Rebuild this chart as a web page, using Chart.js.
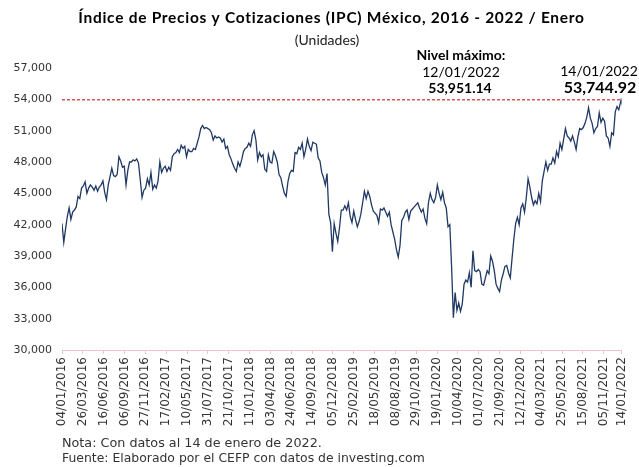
<!DOCTYPE html>
<html>
<head>
<meta charset="utf-8">
<script src="https://cdn.jsdelivr.net/npm/chart.js@4/dist/chart.umd.min.js"></script>
<style>
html,body{margin:0;padding:0;background:#ffffff;}
#wrap{position:relative;width:639px;height:467px;}
</style>
</head>
<body>
<div id="wrap"><canvas id="c" width="639" height="467"></canvas></div>
<script>
// ---- DATA ----
const startDate = '04/01/2016';   // first weekly observation
const stepDays = 7;               // weekly observations
const ipc2016 = [42100,40300,41600,42800,43600,42500,43200,43400,43700,44700,44500,45500,45700,46100,45000,45500,45800,45600,45300,45700,45200,45600,45800,46200,45100,44400,45800,46600,47400,46700,46600,46800,48500,48100,47500,47600,45800,47200,48000,48000,48200,48100,48300,47900,46300,44600,45300,45500,46400,45800,47000,45400];
const ipc2017 = [45800,45500,46200,48000,47000,47400,47600,47100,47500,47200,48500,48800,48900,49200,48900,49600,49300,49500,48500,49200,49000,49000,49300,49200,49800,50400,51200,51500,51200,51300,51200,51100,50800,50100,50500,50300,50400,50300,49900,50200,49300,49500,48700,48300,47800,47400,47100,48000,47600,48200,49000,49300];
const ipc2018 = [49400,49800,49500,50600,51000,50100,48200,48900,48500,48700,47300,47100,48700,48000,47900,49000,48600,48000,46800,46500,45700,45000,44700,46100,46900,47200,47100,48900,48800,49400,49200,49800,48500,49200,50200,49500,49100,49900,49800,49700,48400,48100,47000,46500,45800,46900,43000,42200,39400,42100,41200,40400];
const ipc2019 = [41700,43400,43400,43800,43400,44100,42800,42200,43300,42500,41800,42300,43000,44100,45200,44500,45200,44700,43900,43300,43100,42900,42200,43500,43400,43600,43200,42800,43200,42000,41300,40600,39600,38900,40000,42400,42700,43200,43400,42500,43300,43500,43700,43900,44100,43600,43200,43500,42600,42100,44100,45000];
const ipc2020 = [44400,44100,44600,45800,45000,44400,45100,44100,43600,41800,42000,38000,33100,35500,33800,34500,33700,34400,36300,36700,36500,37400,36000,39500,37600,37500,37700,37500,36300,36200,36900,37600,37300,39000,38500,37600,36300,35900,35600,36700,37300,38000,38100,37400,36900,38800,40600,42100,42700,42000,43600,44000];
const ipc2021 = [43200,44600,46400,45600,44600,43900,44300,44000,45000,44200,46200,47100,48000,47200,47800,47800,48400,47900,49000,48500,49800,49200,50200,51200,50500,50300,50000,50500,49900,49200,50400,51200,51100,51300,51700,52300,53200,52200,51700,50800,51200,51400,52700,51800,52200,51900,50500,50300,49500,50800,50600,52800];
const ipc2022 = [53300,53000];
const finalDates = ['12/01/2022','14/01/2022'];
const finalValues = [53951.14, 53744.92];

const tickLabels = ['04/01/2016','26/03/2016','16/06/2016','06/09/2016','27/11/2016','17/02/2017','10/05/2017','31/07/2017','21/10/2017','11/01/2018','03/04/2018','24/06/2018','14/09/2018','05/12/2018','25/02/2019','18/05/2019','08/08/2019','29/10/2019','19/01/2020','10/04/2020','01/07/2020','21/09/2020','12/12/2020','04/03/2021','25/05/2021','15/08/2021','05/11/2021','14/01/2022'];
const yMin = 30000, yMax = 57000, yStep = 3000;

const maxDate = '12/01/2022', maxValue = 53951.14;
const lastDate = '14/01/2022', lastValue = 53744.92;

const titleText = 'Índice de Precios y Cotizaciones (IPC) México, 2016 - 2022 / Enero';
const subtitleText = '(Unidades)';
const maxCaption = 'Nivel máximo:';
const noteLines = ['Nota: Con datos al 14 de enero de 2022.','Fuente: Elaborado por el CEFP con datos de investing.com'];

// ---- HELPERS ----
function dayOffset(s){
  const [d,m,y] = s.split('/').map(Number);
  const [d0,m0,y0] = startDate.split('/').map(Number);
  return Math.round((Date.UTC(y,m-1,d) - Date.UTC(y0,m0-1,d0)) / 86400000);
}
const weekly = [].concat(ipc2016, ipc2017, ipc2018, ipc2019, ipc2020, ipc2021, ipc2022);
const points = weekly.map((v,i)=>({x:i*stepDays, y:v}));
finalDates.forEach((d,i)=>points.push({x:dayOffset(d), y:finalValues[i]}));
const tickDays = tickLabels.map(dayOffset);
const endDay = dayOffset(lastDate);
const fmt = v => Number(v).toLocaleString('en-US');
const fmt2 = v => Number(v).toLocaleString('en-US',{minimumFractionDigits:2, maximumFractionDigits:2});

const FONT = "'DejaVu Sans', sans-serif";
const TFONT = "Lato, 'DejaVu Sans', sans-serif";

function drawText(c, text, font, x, y, align){
  c.font = font; c.textAlign = align; c.fillText(text, x, y);
}
// keep font size, spread letters so the line spans the reference width
function spreadText(c, text, font, width, x, y){
  c.font = font;
  c.textAlign = 'center';
  const w = c.measureText(text).width;
  if ('letterSpacing' in c) c.letterSpacing = Math.max(0, (width - w) / text.length).toFixed(2) + 'px';
  c.fillText(text, x, y);
  if ('letterSpacing' in c) c.letterSpacing = '0px';
}
// fit a line to the width it occupies in the reference
function fitText(c, text, weight, family, width, x, y, align){
  c.font = weight + " 100px " + family;
  const size = 100 * width / c.measureText(text).width;
  c.font = weight + " " + size.toFixed(2) + "px " + family;
  c.textAlign = align;
  c.fillText(text, x, y);
}

const textPlugin = {
  id:'texts',
  afterDraw(chart){
    const c = chart.ctx;
    c.save();
    c.textBaseline = 'middle';
    c.fillStyle = '#000';
    spreadText(c, titleText, "bold 15.5px " + TFONT, 507, 331.5, 18);
    c.fillStyle = '#1a1a1a';
    drawText(c, subtitleText, "14px " + TFONT, 327, 40, 'center');
    // annotations
    c.fillStyle = '#000';
    drawText(c, maxCaption, "bold 14px " + TFONT, 461, 55, 'center');
    drawText(c, maxDate, "14px " + TFONT, 461, 72, 'center');
    drawText(c, fmt2(maxValue), "bold 14px " + TFONT, 460, 88, 'center');
    drawText(c, lastDate, "14px " + TFONT, 599, 71, 'center');
    drawText(c, fmt2(lastValue), "bold 16px " + TFONT, 600, 88, 'center');
    // notes
    c.textBaseline = 'alphabetic';
    c.fillStyle = '#333';
    fitText(c, noteLines[0], 'normal', FONT, 260, 62, 446.5, 'left');
    fitText(c, noteLines[1], 'normal', FONT, 363, 62, 461.5, 'left');
    c.restore();
  }
};

new Chart(document.getElementById('c').getContext('2d'), {
  type:'line',
  data:{datasets:[
    {data:points, borderColor:'#1F3864', borderWidth:1.3, pointRadius:0, tension:0, order:1},
    {data:[{x:0,y:maxValue},{x:endDay,y:maxValue}], borderColor:'#C00000', borderWidth:1, borderDash:[3,2], pointRadius:0, order:2}
  ]},
  options:{
    responsive:false, animation:false,
    layout:{padding:{left:2,right:7,top:68,bottom:0}},
    plugins:{legend:{display:false}, tooltip:{enabled:false}, title:{display:false}},
    scales:{
      x:{
        type:'linear', min:0, max:endDay,
        afterBuildTicks:s=>{ s.ticks = tickDays.map(v=>({value:v})); },
        afterFit:s=>{ s.height = 117; },
        ticks:{autoSkip:false, minRotation:90, maxRotation:90, padding:3, color:'#333',
          font:{family:FONT, size:12},
          callback:(v,i)=>tickLabels[i]},
        grid:{display:true, drawOnChartArea:false, drawTicks:true, tickLength:4, color:'#F2C4C4'},
        border:{display:true, color:'#F2C4C4'}
      },
      y:{
        min:yMin, max:yMax,
        afterBuildTicks:s=>{ const t=[]; for(let v=yMin; v<=yMax; v+=yStep) t.push({value:v}); s.ticks=t; },
        afterFit:s=>{ s.width = 60; },
        ticks:{padding:10, color:'#333', font:{family:FONT, size:11}, callback:v=>fmt(v)},
        grid:{display:false, drawTicks:false},
        border:{display:false}
      }
    }
  },
  plugins:[textPlugin]
});
</script>
</body>
</html>
